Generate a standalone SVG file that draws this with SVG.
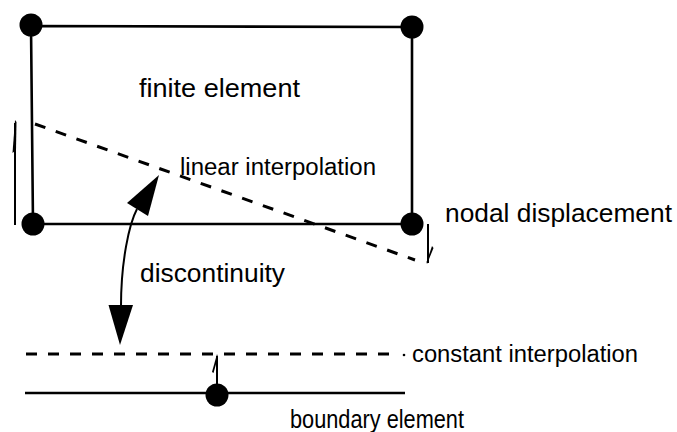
<svg xmlns="http://www.w3.org/2000/svg" width="677" height="432" viewBox="0 0 677 432">
<style>
text{font-family:"Liberation Sans",Arial,sans-serif;fill:#000}
.edge{stroke:#000;stroke-width:2.6;fill:none}
.dash{stroke:#000;stroke-width:3;fill:none;stroke-dasharray:11 11}
.node{fill:#000}
.thin{stroke:#000;stroke-width:2;fill:none}
</style>
<rect width="677" height="432" fill="#fff"/>
<g id="connectors">
<path class="edge" d="M31,26 L412,27 M31,26 L33,224 M412,27 L412,224 M33,224 L412,224"/>
<path class="dash" d="M35,124 L415,260"/>
<path class="edge" d="M25,393 L405,393"/>
<path class="dash" d="M26,354 L398,354"/>
<circle cx="404" cy="355" r="1.3" fill="#000"/>
<path class="thin" d="M15,123 L15,225"/>
<polygon points="15,120 16.5,122 16,150 12.5,153" fill="#000"/>
<path class="thin" d="M428,224 L428,263"/>
<polygon points="427,264 426.5,262 432,246 433.5,248" fill="#000"/>
<path class="thin" d="M217,356 L217,393"/>
<polygon points="217,354 218,357 213.5,373 212,372" fill="#000"/>
<path class="thin" d="M137,209 C129,224 121,262 121,306" stroke-width="2.5"/>
<polygon points="159,175 148,216 127,203" fill="#000"/>
<polygon points="120,345 108.5,305 133,305" fill="#000"/>
</g>
<g id="node-tl"><circle class="node" cx="31" cy="25" r="11.5"/></g>
<g id="node-tr"><circle class="node" cx="412" cy="27" r="11.5"/></g>
<g id="node-bl"><circle class="node" cx="33" cy="224" r="11.5"/></g>
<g id="node-br"><circle class="node" cx="412" cy="224" r="11.5"/></g>
<g id="node-be"><circle class="node" cx="217" cy="395" r="11.5"/></g>
<g id="label-finite"><text x="139" y="97" font-size="25" textLength="161" lengthAdjust="spacingAndGlyphs">finite element</text></g>
<g id="label-linear"><text x="180" y="175" font-size="23" textLength="196" lengthAdjust="spacingAndGlyphs">linear interpolation</text></g>
<g id="label-nodal"><text x="445" y="222" font-size="26" textLength="227" lengthAdjust="spacingAndGlyphs">nodal displacement</text></g>
<g id="label-disc"><text x="140" y="282" font-size="26" textLength="145" lengthAdjust="spacingAndGlyphs">discontinuity</text></g>
<g id="label-constant"><text x="412" y="362" font-size="23" textLength="226" lengthAdjust="spacingAndGlyphs">constant interpolation</text></g>
<g id="label-boundary"><text x="290" y="428" font-size="25" textLength="174" lengthAdjust="spacingAndGlyphs">boundary element</text></g>
</svg>
